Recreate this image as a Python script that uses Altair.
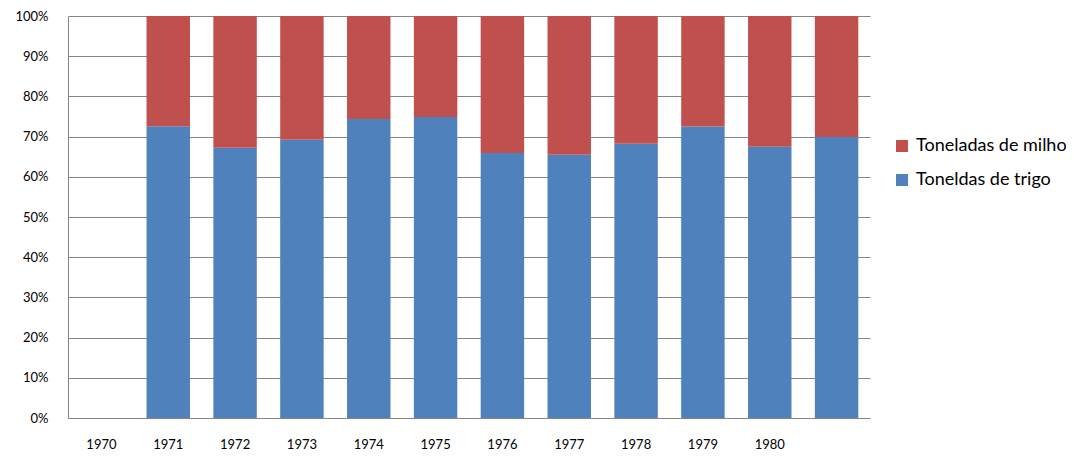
import altair as alt
import pandas as pd

slots = ["1970", "1971", "1972", "1973", "1974", "1975", "1976", "1977",
         "1978", "1979", "1980", " "]
bar_slots = slots[1:]
trigo = [72.6, 67.2, 69.2, 74.4, 74.9, 65.9, 65.5, 68.2, 72.5, 67.5, 69.9]
milho = [27.4, 32.8, 30.8, 25.6, 25.1, 34.1, 34.5, 31.8, 27.5, 32.5, 30.1]
series = ["Toneladas de milho", "Toneldas de trigo"]
colors = ["#C0504D", "#4F81BD"]

rows = []
for s, t, m in zip(bar_slots, trigo, milho):
    rows.append({"ano": s, "serie": series[1], "valor": t, "ord": 0})
    rows.append({"ano": s, "serie": series[0], "valor": m, "ord": 1})
df = pd.DataFrame(rows)

font = "Lato"

chart = alt.Chart(df).mark_bar().encode(
    x=alt.X("ano:N", sort=slots,
            scale=alt.Scale(domain=slots, paddingInner=0.35, paddingOuter=0.175),
            axis=alt.Axis(title=None, labelAngle=0, ticks=False, domain=True,
                          domainColor="#868686", labelPadding=20,
                          labelFontSize=13, labelFont=font, labelColor="#000000")),
    y=alt.Y("valor:Q", stack="normalize",
            scale=alt.Scale(domain=[0, 1], nice=False),
            axis=alt.Axis(title=None, format=".0%",
                          values=[i / 10 for i in range(11)],
                          ticks=False, domain=True, domainColor="#868686",
                          gridColor="#868686", labelPadding=20,
                          labelFontSize=13, labelFont=font, labelColor="#000000")),
    color=alt.Color("serie:N",
                    scale=alt.Scale(domain=series, range=colors),
                    legend=alt.Legend(title=None, orient="none",
                                      legendX=825, legendY=121,
                                      symbolType="square", symbolSize=144,
                                      symbolStrokeWidth=0, rowPadding=16,
                                      labelFontSize=18, labelFont=font,
                                      labelColor="#000000", labelOffset=5)),
    order=alt.Order("ord:Q", sort="ascending"),
).properties(
    width=802, height=402,
    autosize=alt.AutoSizeParams(type="none"),
    padding={"left": 60, "top": 8, "right": 196, "bottom": 44},
).configure_view(stroke=None).configure_axis(gridWidth=1, domainWidth=1)

chart.save("out.html", embed_options={"renderer": "svg", "actions": False})
